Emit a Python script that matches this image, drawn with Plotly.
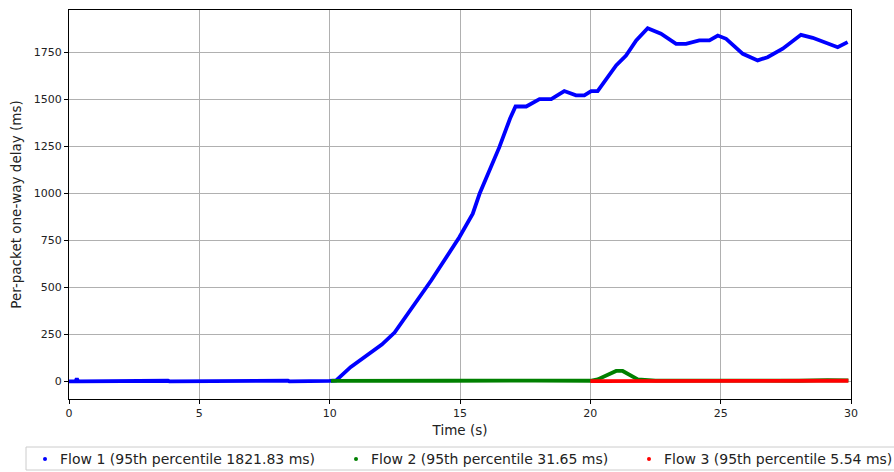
import plotly.graph_objects as go

# Flow 1 (blue)
flow1_t = [0.0, 0.25, 0.3, 0.35, 3.8, 3.85, 8.4, 8.45, 10.0, 10.25, 10.8, 11.4, 12.0, 12.49, 13.06, 13.9,
           14.98, 15.49, 15.75, 16.51, 16.92, 17.13, 17.54, 18.05, 18.5, 19.0, 19.45, 19.77,
           20.03, 20.28, 20.99, 21.37, 21.76, 22.2, 22.71, 23.29, 23.67, 24.18, 24.57, 24.89,
           25.21, 25.85, 26.42, 26.8, 27.38, 28.08, 28.53, 29.04, 29.49, 29.87]
flow1_d = [0, 0, 15, 0, 3, 0, 3, 0, 2, 5, 75, 138, 195, 259, 368, 537,
           767, 891, 997, 1245, 1397, 1461, 1461, 1500, 1500, 1543, 1520, 1520,
           1543, 1543, 1679, 1732, 1812, 1877, 1848, 1794, 1794, 1812, 1812, 1838,
           1821, 1741, 1706, 1723, 1768, 1842, 1826, 1798, 1776, 1803]

# Flow 2 (green)
flow2_t = [10.05, 11.0, 11.3, 12.0, 14.5, 17.9, 18.3, 18.6, 19.5, 20.0, 20.28, 20.6, 20.99,
           21.24, 21.63, 21.82, 22.5, 23.5, 24.2, 25.0, 26.0, 27.0, 28.0, 29.1, 29.3, 29.9]
flow2_d = [2, 3, 4, 2, 3, 4, 3, 4, 3, 3, 10, 32, 55,
           55, 23, 10, 4, 3, 5, 4, 3, 4, 3, 6, 5, 5]

# Flow 3 (red)
flow3_t = [20.0, 21.0, 22.5, 24.0, 25.0, 26.0, 27.0, 28.0, 29.0, 29.9]
flow3_d = [1, 2, 2, 3, 3, 2, 2, 2, 3, 3]

names = ["Flow 1 (95th percentile 1821.83 ms)",
         "Flow 2 (95th percentile 31.65 ms)",
         "Flow 3 (95th percentile 5.54 ms)"]
colors = ["#0000ff", "#008000", "#ff0000"]

W, H = 894, 472
ML, MT = 69, 10
MR = W - 851
MB = H - 399
PW, PH = W - ML - MR, H - MT - MB


def px_x(p):
    return (p - ML) / PW


def px_y(p):
    return (H - MB - p) / PH


fig = go.Figure()
series = [(flow1_t, flow1_d), (flow2_t, flow2_d), (flow3_t, flow3_d)]
for (t, d), c in zip(series, colors):
    fig.add_trace(go.Scatter(x=t, y=d, mode="lines", line=dict(color=c, width=3.8),
                             showlegend=False, hoverinfo="skip"))

# legend drawn manually below the plot (matplotlib style box)
shapes = [dict(type="rect", xref="paper", yref="paper",
               x0=px_x(26), x1=px_x(910), y0=px_y(470), y1=px_y(447),
               line=dict(color="#cccccc", width=1), fillcolor="white", layer="above")]
annotations = []
dot_x = [45, 356, 649]
text_x = [58, 369, 662]
cy = 459
for n, c, dx, tx in zip(names, colors, dot_x, text_x):
    shapes.append(dict(type="circle", xref="paper", yref="paper",
                       x0=px_x(dx - 2), x1=px_x(dx + 2), y0=px_y(cy + 2), y1=px_y(cy - 2),
                       line=dict(width=0), fillcolor=c, layer="above"))
    annotations.append(dict(text=n, xref="paper", yref="paper", x=px_x(tx), y=px_y(cy),
                            xanchor="left", yanchor="middle", showarrow=False,
                            font=dict(size=14, family="DejaVu Sans", color="#222222")))

font = dict(family="DejaVu Sans", color="#222222")
axis_common = dict(showline=True, linecolor="black", linewidth=1, mirror=True,
                   ticks="outside", ticklen=4, tickcolor="black",
                   showgrid=True, gridcolor="#b0b0b0", gridwidth=1, zeroline=False,
                   automargin=False,
                   tickfont=dict(size=11, family="DejaVu Sans", color="#222222"))

fig.update_layout(
    width=W, height=H,
    margin=dict(l=ML, r=MR, t=MT, b=MB),
    plot_bgcolor="white", paper_bgcolor="white",
    font=font,
    showlegend=False,
    hovermode=False,
    xaxis=dict(range=[0, 30], tickvals=[0, 5, 10, 15, 20, 25, 30],
               title=dict(text="Time (s)", font=dict(size=13.5), standoff=6), **axis_common),
    yaxis=dict(range=[-94, 1974], tickvals=[0, 250, 500, 750, 1000, 1250, 1500, 1750],
               title=dict(text="Per-packet one-way delay (ms)", font=dict(size=13.5), standoff=9),
               **axis_common),
    shapes=shapes,
    annotations=annotations,
)

# remove the browser's default page margin so the figure fills the window
fig.write_html("out.html", config={"displayModeBar": False},
               post_script="document.body.style.margin='0';document.body.style.overflow='hidden';")
